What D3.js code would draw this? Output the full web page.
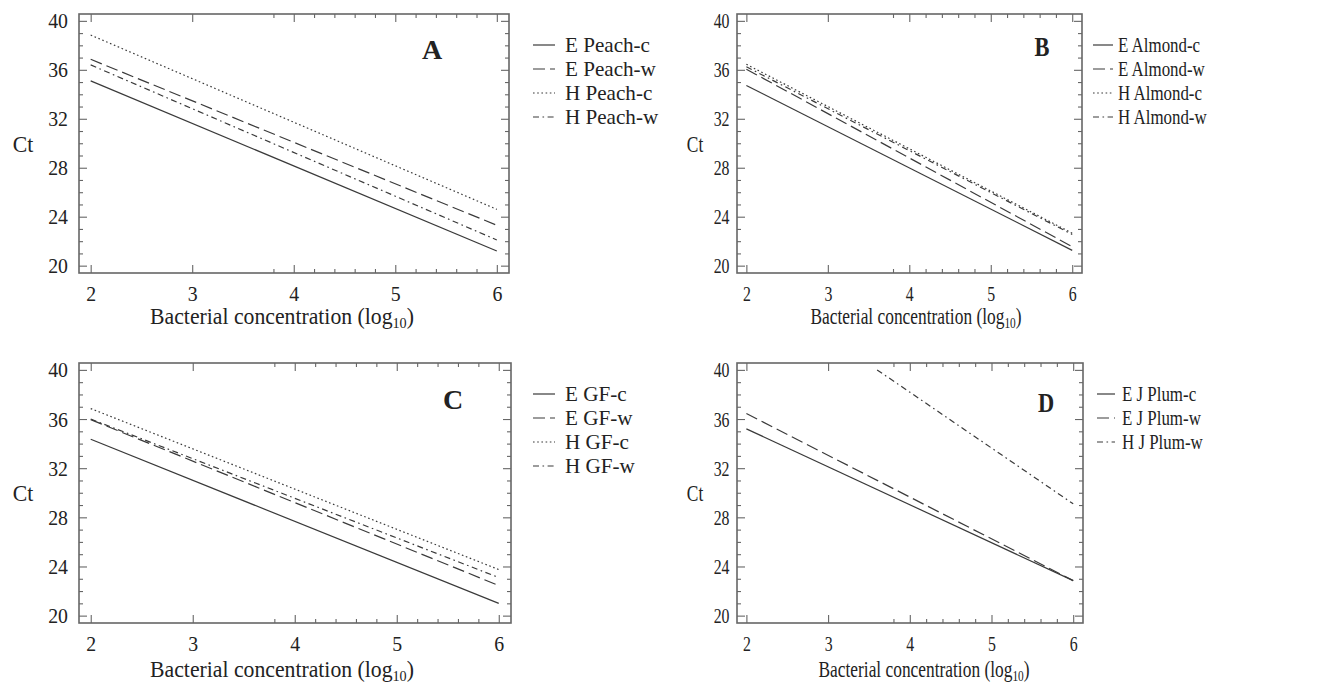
<!DOCTYPE html>
<html>
<head>
<meta charset="utf-8">
<script src="https://cdn.jsdelivr.net/npm/d3@7/dist/d3.min.js"></script>
<style>
  html, body { margin: 0; padding: 0; background: #fff; }
  svg { display: block; }
  text { font-family: "Liberation Serif", "Times New Roman", serif; fill: #222; }
</style>
</head>
<body>
<svg id="chart" width="1342" height="685"></svg>
<script>
// ---------------- DATA ----------------
const concentration = [2, 6];               // log10 bacterial concentration
const xTicks = [2, 3, 4, 5, 6];
const yTicks = [20, 24, 28, 32, 36, 40];

const peachNames = ["E Peach-c", "E Peach-w", "H Peach-c", "H Peach-w"];
const peachCt = [[35.1, 21.2], [36.86, 23.3], [38.84, 24.6], [36.4, 22.1]];

const almondNames = ["E Almond-c", "E Almond-w", "H Almond-c", "H Almond-w"];
const almondCt = [[34.72, 21.25], [36.05, 21.55], [36.45, 22.65], [36.25, 22.55]];

const gfNames = ["E GF-c", "E GF-w", "H GF-c", "H GF-w"];
const gfCt = [[34.35, 21.0], [35.95, 22.45], [36.85, 23.75], [36.0, 23.1]];

const plumNames = ["E J Plum-c", "E J Plum-w", "H J Plum-w"];
const plumX = [[2, 6], [2, 6], [3.6, 6]];
const plumCt = [[35.2, 22.85], [36.45, 22.85], [40.0, 29.1]];

const styles = ["solid", "dashed", "dotted", "dashdot"];
const plumStyles = ["solid", "dashed", "dashdot"];

// ---------------- LAYOUT ----------------
const dashFor = {
  solid: null,
  dashed: "12,5",
  dotted: "1.6,2.6",
  dashdot: "6,3.5,1.6,3.5"
};

const panels = [
  { label: "A", names: peachNames, ct: peachCt, xs: peachNames.map(() => concentration), st: styles,
    fx0: 79, fx1: 509, fy0: 14, fy1: 273, k: 1, ygap: 11, ctX: 23, titleX: 282,
    legLine: [533, 555], legText: 565, labX: 432, labY: 50 },
  { label: "B", names: almondNames, ct: almondCt, xs: almondNames.map(() => concentration), st: styles,
    fx0: 737, fx1: 1082, fy0: 14, fy1: 273, k: 0.8, ygap: 7.5, ctX: 695, titleX: 916,
    legLine: [1093, 1113], legText: 1118, labX: 1042, labY: 47 },
  { label: "C", names: gfNames, ct: gfCt, xs: gfNames.map(() => concentration), st: styles,
    fx0: 79, fx1: 511, fy0: 363, fy1: 623, k: 1, ygap: 11, ctX: 23, titleX: 282,
    legLine: [533, 555], legText: 565, labX: 453, labY: 400 },
  { label: "D", names: plumNames, ct: plumCt, xs: plumX, st: plumStyles,
    fx0: 737, fx1: 1083, fy0: 363, fy1: 623, k: 0.8, ygap: 7.5, ctX: 695, titleX: 924,
    legLine: [1097, 1115], legText: 1122, labX: 1046, labY: 403 }
];

const svg = d3.select("#chart");
const lineColor = "#3a3a3a";
const frameColor = "#666";

panels.forEach(p => {
  const g = svg.append("g");
  const x = d3.scaleLinear().domain([1.885, 6.12]).range([p.fx0, p.fx1]);
  const y = d3.scaleLinear().domain([19.4, 40.56]).range([p.fy1, p.fy0]);
  const sTick = 0.9 * p.k, sLeg = 0.96 * p.k, sTitle = 0.945 * p.k;

  // ticks (inward, on all four sides)
  const minorX = d3.range(19, 31).map(d => d / 5).filter(d => !xTicks.includes(d));
  const minorY = d3.range(20, 41).filter(d => !yTicks.includes(d));
  const tickGroups = [
    [d3.axisBottom(x).tickValues(xTicks).tickSize(-8), `translate(0,${p.fy1})`],
    [d3.axisBottom(x).tickValues(minorX).tickSize(-4), `translate(0,${p.fy1})`],
    [d3.axisTop(x).tickValues(xTicks).tickSize(-8), `translate(0,${p.fy0})`],
    [d3.axisTop(x).tickValues(minorX).tickSize(-4), `translate(0,${p.fy0})`],
    [d3.axisLeft(y).tickValues(yTicks).tickSize(-8), `translate(${p.fx0},0)`],
    [d3.axisLeft(y).tickValues(minorY).tickSize(-4), `translate(${p.fx0},0)`],
    [d3.axisRight(y).tickValues(yTicks).tickSize(-8), `translate(${p.fx1},0)`],
    [d3.axisRight(y).tickValues(minorY).tickSize(-4), `translate(${p.fx1},0)`]
  ];
  tickGroups.forEach(([ax, tr]) => {
    const a = g.append("g").attr("transform", tr).call(ax.tickFormat(""));
    a.select(".domain").remove();
    a.selectAll("line").attr("stroke", frameColor).attr("stroke-width", 1.1);
    a.selectAll("text").remove();
  });

  // tick labels
  const bx = g.append("g").attr("transform", `translate(0,${p.fy1})`)
    .call(d3.axisBottom(x).tickValues(xTicks).tickSize(0).tickPadding(12).tickFormat(d3.format("d")));
  bx.select(".domain").remove();
  bx.selectAll("text").attr("font-size", 22).attr("fill", "#222")
    .attr("font-family", "Liberation Serif").attr("transform", `scale(${sTick},1)`);

  const ly = g.append("g").attr("transform", `translate(${p.fx0},0)`)
    .call(d3.axisLeft(y).tickValues(yTicks).tickSize(0).tickPadding(p.ygap).tickFormat(d3.format("d")));
  ly.select(".domain").remove();
  ly.selectAll("text").attr("font-size", 22).attr("fill", "#222")
    .attr("font-family", "Liberation Serif")
    .attr("x", -p.ygap / sTick).attr("transform", `scale(${sTick},1)`);

  // frame
  g.append("rect").attr("x", p.fx0).attr("y", p.fy0)
    .attr("width", p.fx1 - p.fx0).attr("height", p.fy1 - p.fy0)
    .attr("fill", "none").attr("stroke", frameColor).attr("stroke-width", 1.6);

  // series lines
  const line = d3.line().x(d => x(d[0])).y(d => y(d[1]));
  p.names.forEach((n, i) => {
    const pts = p.xs[i].map((xv, j) => [xv, p.ct[i][j]]);
    g.append("path").datum(pts).attr("d", line)
      .attr("fill", "none").attr("stroke", lineColor).attr("stroke-width", 1.2)
      .attr("stroke-dasharray", dashFor[p.st[i]]);
  });

  // panel label
  g.append("text").attr("transform", `translate(${p.labX},${p.labY + 9}) scale(${p.k},1)`)
    .attr("text-anchor", "middle").attr("font-size", 28).attr("font-weight", "bold")
    .attr("fill", "#111").text(p.label);

  // Ct label
  g.append("text").attr("transform", `translate(${p.ctX},${(p.fy0 + p.fy1) / 2 + 8}) scale(${sTitle},1)`)
    .attr("text-anchor", "middle").attr("font-size", 23).text("Ct");

  // x title
  const t = g.append("text")
    .attr("transform", `translate(${p.titleX},${p.fy1 + (p.label === "A" || p.label === "B" ? 51 : 54)}) scale(${sTitle},1)`)
    .attr("text-anchor", "middle").attr("font-size", 23);
  t.append("tspan").text("Bacterial concentration (log");
  t.append("tspan").attr("font-size", 15).attr("dy", 4).text("10");
  t.append("tspan").attr("dy", -4).text(")");

  // legend
  p.names.forEach((n, i) => {
    const cy = p.fy0 + 31 + i * 24;
    g.append("line").attr("x1", p.legLine[0]).attr("x2", p.legLine[1])
      .attr("y1", cy).attr("y2", cy)
      .attr("stroke", lineColor).attr("stroke-width", 1.2)
      .attr("stroke-dasharray", dashFor[p.st[i]]);
    g.append("text").attr("transform", `translate(${p.legText},${cy + 7}) scale(${sLeg},1)`)
      .attr("font-size", 22).text(n);
  });
});
</script>
</body>
</html>
